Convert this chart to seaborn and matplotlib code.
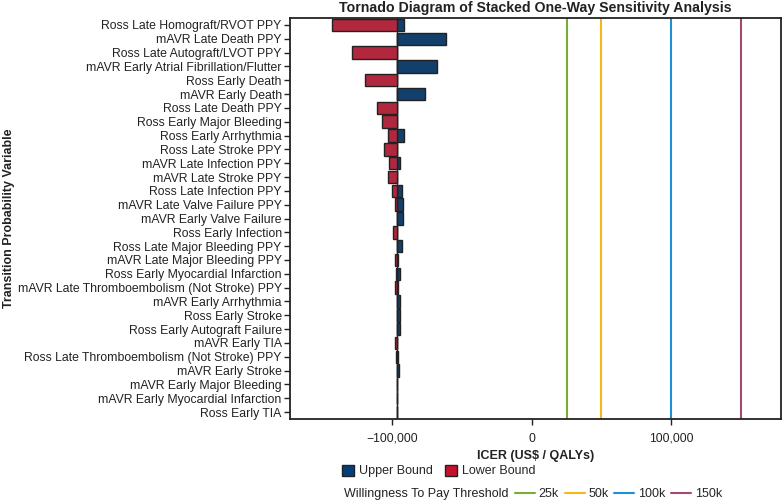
import numpy as np
import pandas as pd
import matplotlib
matplotlib.use("Agg")
import matplotlib.pyplot as plt
import matplotlib.font_manager as fm
import seaborn as sns
from matplotlib.patches import Patch
from matplotlib.lines import Line2D
from matplotlib.ticker import FuncFormatter

variables = [
    "Ross Late Homograft/RVOT PPY",
    "mAVR Late Death PPY",
    "Ross Late Autograft/LVOT PPY",
    "mAVR Early Atrial Fibrillation/Flutter",
    "Ross Early Death",
    "mAVR Early Death",
    "Ross Late Death PPY",
    "Ross Early Major Bleeding",
    "Ross Early Arrhythmia",
    "Ross Late Stroke PPY",
    "mAVR Late Infection PPY",
    "mAVR Late Stroke PPY",
    "Ross Late Infection PPY",
    "mAVR Late Valve Failure PPY",
    "mAVR Early Valve Failure",
    "Ross Early Infection",
    "Ross Late Major Bleeding PPY",
    "mAVR Late Major Bleeding PPY",
    "Ross Early Myocardial Infarction",
    "mAVR Late Thromboembolism (Not Stroke) PPY",
    "mAVR Early Arrhythmia",
    "Ross Early Stroke",
    "Ross Early Autograft Failure",
    "mAVR Early TIA",
    "Ross Late Thromboembolism (Not Stroke) PPY",
    "mAVR Early Stroke",
    "mAVR Early Major Bleeding",
    "mAVR Early Myocardial Infarction",
    "Ross Early TIA",
]

base_icer = -96300

lower_bound = [-143200, -96300, -128600, -96300, -119700, -96300, -110700, -107300,
               -102800, -106000, -102100, -103000, -99900, -97800, -96300, -99200,
               -96300, -98000, -97300, -98200, -96300, -96300, -96300, -97800,
               -97000, -96300, -96300, -96300, -96300]
upper_bound = [-91300, -61650, -96300, -67650, -96300, -76700, -96300, -96300,
               -91750, -96300, -94200, -96300, -93200, -92500, -92500, -96300,
               -93200, -95600, -94400, -95900, -94400, -94400, -94400, -96300,
               -95900, -94900, -96300, -96300, -96300]

wtp_values = [25000, 50000, 100000, 150000]
wtp_labels = ["25k", "50k", "100k", "150k"]
wtp_colors = ["#77AC35", "#F6B71C", "#1E8FD5", "#A34A72"]

bound_names = ["Upper Bound", "Lower Bound"]
bound_colors = {"Upper Bound": "#033F7A", "Lower Bound": "#C8102E"}

sns.set_theme(style="white")
plt.rcParams["font.family"] = ["Liberation Sans", "DejaVu Sans"]

# condensed font for title if available
title_font = {"family": ["Liberation Sans", "DejaVu Sans"], "size": 10.2}
try:
    fm.findfont(fm.FontProperties(family="Liberation Sans Narrow"), fallback_to_default=False)
    title_font = {"family": ["Liberation Sans Narrow", "Liberation Sans"], "size": 11}
except Exception:
    pass

rows = []
for v, lo, up in zip(variables, lower_bound, upper_bound):
    rows.append({"var": v, "bound": "Upper Bound", "delta": up - base_icer})
    rows.append({"var": v, "bound": "Lower Bound", "delta": lo - base_icer})
df = pd.DataFrame(rows)

fig = plt.figure(figsize=(7.84, 5.01), dpi=100)
ax = fig.add_axes([290 / 784, 1 - 419 / 501, (781 - 290) / 784, (419 - 18) / 501])

sns.barplot(data=df, y="var", x="delta", hue="bound", order=variables,
            hue_order=bound_names, palette=bound_colors, dodge=False,
            width=0.9, edgecolor="#222222", linewidth=1.0, legend=False,
            errorbar=None, ax=ax, zorder=3)

for p in ax.patches:
    p.set_x(p.get_x() + base_icer)

ax.axvline(base_icer, color="#222222", lw=1.0, zorder=2)
for val, col in zip(wtp_values, wtp_colors):
    ax.axvline(val, color=col, lw=1.5, zorder=2)

ax.set_xlim(-173300, 178700)
ax.set_ylim(len(variables) - 0.5, -0.5)
ax.set_xticks([-100000, 0, 100000])
ax.xaxis.set_major_formatter(FuncFormatter(lambda x, p: f"{x:,.0f}".replace("-", "\u2212")))

for s in ax.spines.values():
    s.set_color("#222222")
    s.set_linewidth(1.3)
    s.set_visible(True)

ax.tick_params(axis="both", which="both", direction="out", length=4, width=1,
               color="#222222", labelsize=8.85, labelcolor="#222222",
               left=True, bottom=True, pad=2)
ax.tick_params(axis="x", pad=6)

ax.set_xlabel("ICER (US$ / QALYs)", fontsize=9, fontweight="bold", color="#222222", labelpad=4)
ax.set_ylabel("")
fig.text(0.012, 1 - 218 / 501, "Transition Probability Variable", rotation=90,
         fontsize=9, fontweight="bold", color="#222222", ha="center", va="center")

ax.set_title("Tornado Diagram of Stacked One-Way Sensitivity Analysis",
             fontweight="bold", color="#222222", pad=4, fontdict=title_font)

h1 = [Patch(facecolor=bound_colors[b], edgecolor="#222222", lw=1) for b in bound_names]
fig.legend(h1, bound_names, loc="center left", bbox_to_anchor=(342 / 784, 1 - 471 / 501),
           ncol=2, frameon=False, fontsize=9, handlelength=0.95, handleheight=1.0,
           handletextpad=0.4, columnspacing=1.0, borderaxespad=0, borderpad=0)

fig.text(344 / 784, 1 - 494 / 501, "Willingness To Pay Threshold", fontsize=9,
         color="#222222", ha="left", va="center")
h2 = [Line2D([0], [0], color=c, lw=1.5) for c in wtp_colors]
fig.legend(h2, wtp_labels, loc="center left", bbox_to_anchor=(515 / 784, 1 - 494 / 501),
           ncol=4, frameon=False, fontsize=9, handlelength=1.6,
           handletextpad=0.3, columnspacing=0.45, borderaxespad=0, borderpad=0)

fig.savefig("out.png", dpi=100, facecolor="white")
